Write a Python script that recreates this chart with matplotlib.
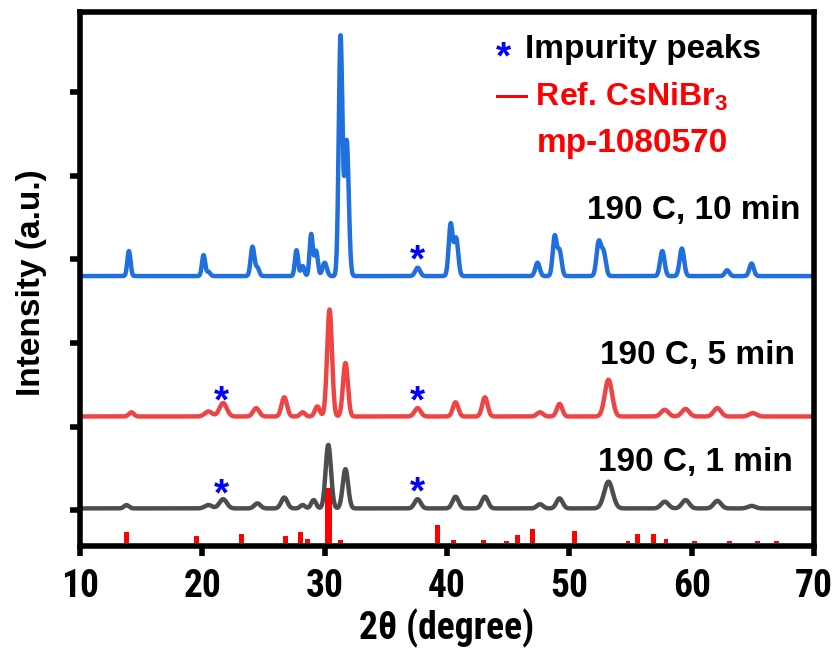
import numpy as np
import matplotlib
matplotlib.use('Agg')
import matplotlib.pyplot as plt
from matplotlib import font_manager

# Peak lists: position (deg), height (a.u.), width (sigma, deg)
pos_1min = [13.8, 20.5, 21.7, 24.5, 26.7, 28.2, 29.1, 30.3, 31.7, 37.6, 40.7, 43.1, 47.6, 49.2, 53.2, 57.8, 59.5, 62.1, 64.9]
amp_1min = [0.04, 0.04, 0.11, 0.06, 0.13, 0.04, 0.10, 0.76, 0.47, 0.11, 0.14, 0.14, 0.05, 0.12, 0.32, 0.08, 0.10, 0.09, 0.03]
wid_1min = [0.2, 0.3, 0.3, 0.25, 0.25, 0.2, 0.2, 0.22, 0.22, 0.25, 0.25, 0.25, 0.25, 0.25, 0.35, 0.3, 0.3, 0.3, 0.3]

pos_5min = [14.2, 20.5, 21.7, 24.4, 26.7, 28.2, 29.4, 30.4, 31.7, 37.6, 40.7, 43.1, 47.6, 49.2, 53.2, 57.8, 59.5, 62.1, 65.0]
amp_5min = [0.05, 0.06, 0.16, 0.10, 0.23, 0.05, 0.12, 1.28, 0.64, 0.10, 0.17, 0.23, 0.05, 0.15, 0.44, 0.08, 0.09, 0.10, 0.04]
wid_5min = [0.2, 0.3, 0.3, 0.25, 0.22, 0.2, 0.2, 0.2, 0.2, 0.25, 0.22, 0.22, 0.25, 0.22, 0.3, 0.3, 0.3, 0.3, 0.3]

pos_10min = [14.0, 20.1, 20.5, 24.1, 24.5, 27.7, 28.2, 28.9, 29.3, 30.0, 31.3, 31.8, 37.6, 40.3, 40.75,
             47.4, 48.8, 49.2, 52.4, 52.8, 57.6, 59.2, 62.9, 64.9]
amp_10min = [0.30, 0.25, 0.05, 0.35, 0.10, 0.31, 0.12, 0.50, 0.30, 0.16, 2.86, 1.62, 0.10, 0.62, 0.45,
             0.16, 0.47, 0.30, 0.40, 0.28, 0.30, 0.33, 0.07, 0.15]
wid_10min = [0.13, 0.13, 0.15, 0.15, 0.15, 0.13, 0.14, 0.13, 0.14, 0.18, 0.15, 0.17, 0.2, 0.16, 0.17,
             0.18, 0.16, 0.17, 0.18, 0.18, 0.18, 0.18, 0.18, 0.18]

# offsets of each pattern
base_1min = 0.02
base_5min = 1.12
base_10min = 2.80

# reference CsNiBr3 (mp-1080570) stick pattern, relative intensity
ref_pos = [13.8, 19.5, 23.2, 26.8, 28.0, 28.6, 30.3, 31.3, 39.2, 40.5, 43.0, 44.9, 45.8, 47.0,
           50.4, 54.8, 55.6, 56.9, 57.9, 60.2, 63.1, 65.4, 66.9]
ref_int = [20, 13, 18, 13, 20, 9, 100, 7, 33, 7, 7, 5, 16, 27,
           22, 5, 18, 18, 9, 4, 4, 5, 4]
ref_wid = [0.4] * 6 + [0.55] + [0.4] * 16

# impurity marks (x, y)
star_x = [37.6, 21.6, 37.6, 21.6, 37.6]
star_y = [2.98, 1.29, 1.29, 0.17, 0.20]


def profile(x, pos, amp, wid, base):
    y = np.full_like(x, base)
    for p, a, w in zip(pos, amp, wid):
        y += a * np.exp(-0.5 * ((x - p) / w) ** 2)
    return y


plt.rcParams['font.family'] = ['Liberation Sans', 'DejaVu Sans']
plt.rcParams['font.weight'] = 'bold'
plt.rcParams['mathtext.fontset'] = 'custom'
plt.rcParams['mathtext.rm'] = 'Liberation Sans:bold'
plt.rcParams['mathtext.bf'] = 'Liberation Sans:bold'

# condensed face for the axis numbers if one is installed
names = {f.name for f in font_manager.fontManager.ttflist}
narrow = next((n for n in ['Liberation Sans Narrow', 'Arial Narrow', 'Roboto Condensed', 'Open Sans Condensed']
               if n in names), None)
if narrow:
    num_family, num_size = [narrow, 'Liberation Sans'], 27
else:
    num_family, num_size = ['Liberation Sans'], 24

fig = plt.figure(figsize=(8.34, 6.49), dpi=100)
ax = fig.add_axes([0.0959, 0.1587, 0.8801, 0.8228])

x = np.arange(10, 70.001, 0.02)
ax.plot(x, profile(x, pos_10min, amp_10min, wid_10min, base_10min), color='#1f6fdf', lw=3.2)
ax.plot(x, profile(x, pos_5min, amp_5min, wid_5min, base_5min), color='#ee4444', lw=3.2)
ax.plot(x, profile(x, pos_1min, amp_1min, wid_1min, base_1min), color='#4d4d4d', lw=3.2)

bar_bottom = -0.40
ref_h = np.array(ref_int) / 100 * 0.66
ax.bar(ref_pos, ref_h, width=ref_wid, bottom=bar_bottom, color='#ff0000')

for sx, sy in zip(star_x, star_y):
    ax.text(sx, sy, '*', color='#0000ff', fontsize=28, ha='center', va='center')

ax.text(68.86, 3.59, '190 C, 10 min', fontsize=24, ha='right', va='center')
ax.text(68.45, 1.85, '190 C, 5 min', fontsize=24, ha='right', va='center')
ax.text(68.29, 0.574, '190 C, 1 min', fontsize=24, ha='right', va='center')

# legend-like text block
ax.text(44.58, 5.40, '*', color='#0000ff', fontsize=28, ha='center', va='center')
ax.text(46.38, 5.51, 'Impurity peaks', fontsize=24, ha='left', va='center')
ax.text(43.92, 4.94, '\u2014 Ref. CsNiBr$_3$', color='#ff0000', fontsize=23, ha='left', va='center')
ax.text(55.13, 4.39, 'mp-1080570', color='#ff0000', fontsize=24, ha='center', va='center')

ax.set_xlim(10, 70)
ax.set_ylim(-0.43, 5.96)
ax.set_xticks([10, 20, 30, 40, 50, 60, 70])
ax.set_yticks([0, 1, 2, 3, 4, 5])
ax.set_yticklabels([])
for lab in ax.get_xticklabels():
    lab.set_family(num_family)
    lab.set_fontsize(num_size)
    lab.set_fontweight('bold')
ax.tick_params(axis='both', direction='out', length=7, width=4, top=False, right=False, pad=9)
for sp in ax.spines.values():
    sp.set_linewidth(4)

ax.set_xlabel('2\u03b8 (degree)', fontsize=num_size, family=num_family, fontweight='bold')
ax.xaxis.set_label_coords(0.5, -0.118)
fig.text(32 / 834, 1 - 283 / 649, 'Intensity (a.u.)', rotation=90, fontsize=24,
         ha='center', va='center')

fig.savefig('out.png', dpi=100)
